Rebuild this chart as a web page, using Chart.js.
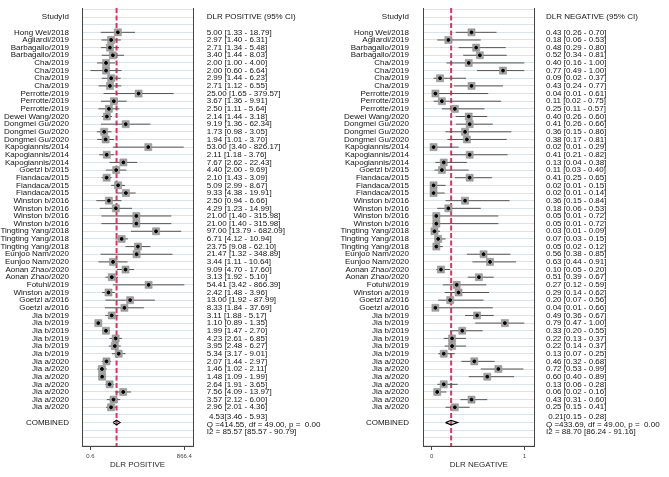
<!DOCTYPE html>
<html>
<head>
<meta charset="utf-8">
<script src="https://cdn.jsdelivr.net/npm/chart.js@4/dist/chart.umd.min.js"></script>
<style>
  body { margin: 0; background: #fff; }
  #wrap { position: relative; width: 669px; height: 477px; }
  canvas { position: absolute; top: 0; }
</style>
</head>
<body>
<div id="wrap">
  <canvas id="pos" width="334" height="477" style="left:0;width:334px;height:477px"></canvas>
  <canvas id="neg" width="335" height="477" style="left:334px;width:335px;height:477px"></canvas>
</div>
<script>
// Studies (one row each)
const studies = ['Hong Wei/2018','Agliardi/2019','Barbagallo/2019','Barbagallo/2019','Cha/2019','Cha/2019','Cha/2019','Cha/2019',
  'Perrotte/2019','Perrotte/2019','Perrotte/2019','Dewei Wang/2020','Dongmei Gu/2020','Dongmei Gu/2020','Dongmei Gu/2020',
  'Kapogiannis/2014','Kapogiannis/2014','Kapogiannis/2014','Goetzl b/2015','Fiandaca/2015','Fiandaca/2015','Fiandaca/2015',
  'Winston b/2016','Winston b/2016','Winston b/2016','Winston b/2016','Tingting Yang/2018','Tingting Yang/2018','Tingting Yang/2018',
  'Eunjoo Nam/2020','Eunjoo Nam/2020','Aonan Zhao/2020','Aonan Zhao/2020','Fotuhi/2019','Winston a/2019','Goetzl a/2016','Goetzl a/2016',
  'Jia b/2019','Jia b/2019','Jia b/2019','Jia b/2019','Jia b/2019','Jia b/2019',
  'Jia a/2020','Jia a/2020','Jia a/2020','Jia a/2020','Jia a/2020','Jia a/2020','Jia a/2020'];

// DLR positive
const posEst = [5.00,2.97,2.71,3.40,2.00,2.00,2.99,2.71,25.00,3.67,2.50,2.14,9.19,1.73,1.94,53.00,2.11,7.67,4.40,2.10,5.09,9.33,
  2.50,4.29,21.00,21.00,97.00,6.71,23.75,21.47,3.44,9.09,3.13,54.41,2.42,13.00,8.33,3.11,1.10,1.99,4.23,3.95,5.34,
  2.07,1.46,1.48,2.64,7.56,3.57,2.96];
const posLo = [1.33,1.40,1.34,1.44,1.00,0.60,1.44,1.12,1.65,1.36,1.11,1.44,1.36,0.98,1.01,3.40,1.18,2.62,2.00,1.43,2.99,4.38,
  0.94,1.23,1.40,1.40,13.79,4.12,9.08,1.32,1.11,4.70,1.92,3.42,1.48,1.92,1.84,1.88,0.89,1.47,2.61,2.48,3.17,
  1.44,1.02,1.09,1.91,4.09,2.12,2.01];
const posHi = [18.79,6.31,5.48,8.03,4.00,6.64,6.23,6.55,379.57,9.91,5.64,3.18,62.34,3.05,3.70,826.17,3.76,22.43,9.69,3.09,8.67,19.91,
  6.66,14.99,315.98,315.98,682.09,10.94,62.10,348.89,10.64,17.60,5.10,866.39,3.96,87.99,37.69,5.17,1.35,2.70,6.85,6.27,9.01,
  2.97,2.11,1.99,3.65,13.97,6.00,4.36];
const posCombined = [4.53, 3.46, 5.93];
const posStats = ['Q =414.55, df = 49.00, p =  0.00', 'I2 = 85.57 [85.57 - 90.79]'];
const posTicks = [0.6, 866.4];
const posTickLabels = ['0.6', '866.4'];

// DLR negative
const negEst = [0.43,0.18,0.48,0.52,0.40,0.77,0.09,0.43,0.04,0.11,0.25,0.40,0.41,0.36,0.38,0.02,0.41,0.13,0.11,0.41,0.02,0.02,
  0.36,0.18,0.05,0.05,0.03,0.07,0.05,0.56,0.63,0.10,0.51,0.27,0.29,0.20,0.04,0.49,0.79,0.33,0.22,0.22,0.13,
  0.46,0.72,0.60,0.13,0.06,0.43,0.25];
const negLo = [0.26,0.06,0.29,0.34,0.16,0.49,0.02,0.24,0.01,0.02,0.11,0.26,0.26,0.15,0.17,0.01,0.21,0.04,0.03,0.25,0.01,0.01,
  0.15,0.06,0.01,0.01,0.01,0.03,0.02,0.38,0.44,0.05,0.39,0.12,0.14,0.07,0.01,0.36,0.47,0.20,0.13,0.14,0.07,
  0.32,0.53,0.40,0.06,0.02,0.31,0.15];
const negHi = [0.70,0.53,0.80,0.81,1.00,1.00,0.37,0.77,0.61,0.75,0.57,0.60,0.66,0.86,0.81,0.29,0.82,0.38,0.40,0.65,0.15,0.14,
  0.84,0.53,0.72,0.72,0.09,0.15,0.12,0.85,0.91,0.20,0.67,0.59,0.62,0.56,0.66,0.67,1.00,0.55,0.37,0.37,0.25,
  0.68,0.99,0.89,0.28,0.16,0.60,0.41];
const negCombined = [0.21, 0.15, 0.28];
const negStats = ['Q =433.69, df = 49.00, p =  0.00', 'I2 = 88.70 [86.24 - 91.16]'];
const negTicks = [0, 1];
const negTickLabels = ['0', '1'];

const FONT = '8px "Liberation Sans", Arial, sans-serif';
const HEADER_ROW = -2;
const COMB_ROW = 51;
const ROW_MIN = -3.18, ROW_MAX = 54.06;

const f2 = v => v.toFixed(2);

function makePanel(id, o) {
  const ciLines = [];
  o.lo.forEach((l, i) => {
    ciLines.push({x: l, y: i}, {x: o.hi[i], y: i}, {x: null, y: null});
  });
  const pts = o.est.map((v, i) => ({x: v, y: i}));
  const [c, cl, ch] = o.comb;
  const diamond = [{x: cl, y: COMB_ROW}, {x: c, y: COMB_ROW - 0.3}, {x: ch, y: COMB_ROW},
                   {x: c, y: COMB_ROW + 0.3}, {x: cl, y: COMB_ROW}];

  const textPlugin = {
    id: 'forestText',
    afterDraw(chart) {
      const ctx = chart.ctx, y = chart.scales.y;
      ctx.save();
      ctx.font = FONT;
      ctx.fillStyle = '#141414';
      ctx.textBaseline = 'middle';
      ctx.textAlign = 'right';
      ctx.fillText('StudyId', o.labelX, y.getPixelForValue(HEADER_ROW));
      studies.forEach((s, i) => ctx.fillText(s, o.labelX, y.getPixelForValue(i)));
      ctx.fillText('COMBINED', o.labelX, y.getPixelForValue(COMB_ROW));
      ctx.textAlign = 'left';
      ctx.fillText(o.header, o.valueX, y.getPixelForValue(HEADER_ROW));
      o.est.forEach((v, i) => {
        ctx.fillText(f2(v) + ' [' + f2(o.lo[i]) + ' - ' + f2(o.hi[i]) + ']', o.valueX, y.getPixelForValue(i));
      });
      const cy = y.getPixelForValue(COMB_ROW);
      ctx.fillText(' ' + f2(c) + '[' + f2(cl) + ' - ' + f2(ch) + ']', o.valueX, cy - 5.3);
      ctx.fillText(o.stats[0], o.valueX, cy + 2.2);
      ctx.fillText(o.stats[1], o.valueX, cy + 9.2);
      ctx.restore();
    }
  };

  new Chart(document.getElementById(id), {
    type: 'scatter',
    data: {
      datasets: [
        { data: pts, pointStyle: 'circle', pointRadius: 1.4, backgroundColor: '#000', borderColor: '#000', order: 0 },
        { data: pts, pointStyle: 'rect', pointRadius: 5, backgroundColor: '#a0a0a0', borderColor: '#888', borderWidth: 0.5, order: 1 },
        { data: diamond, showLine: true, pointRadius: 0, borderColor: '#000', borderWidth: 1.2, order: 2 },
        { data: ciLines, showLine: true, spanGaps: false, pointRadius: 0, borderColor: '#555', borderWidth: 1, order: 3 },
        { data: [{x: c, y: ROW_MIN}, {x: c, y: ROW_MAX}], showLine: true, pointRadius: 0,
          borderColor: '#d9365e', borderWidth: 2, borderDash: [5, 2.5], order: 4 }
      ]
    },
    options: {
      responsive: false,
      animation: false,
      events: [],
      layout: { padding: o.padding },
      plugins: { legend: { display: false }, tooltip: { enabled: false } },
      scales: {
        x: {
          type: o.xType, min: o.xMin, max: o.xMax, bounds: 'data',
          afterBuildTicks: s => { s.ticks = o.ticks.map(v => ({value: v})); },
          afterFit: s => { s.height = 31; },
          ticks: { autoSkip: false, maxRotation: 0, padding: 3, color: '#444',
                   font: { family: '"Liberation Sans", Arial, sans-serif', size: 6 },
                   callback: (v, i) => o.tickLabels[i] },
          grid: { drawOnChartArea: false, drawTicks: true, tickLength: 4, color: '#444' },
          border: { display: true, color: '#444', width: 1 },
          title: { display: true, text: o.title, color: '#2a2a2a', padding: { top: 0, bottom: 7 },
                   font: { family: '"Liberation Sans", Arial, sans-serif', size: 8 } }
        },
        y: {
          type: 'linear', reverse: true, min: ROW_MIN, max: ROW_MAX,
          afterBuildTicks: s => { const t = []; for (let r = -3; r <= 54; r++) t.push({value: r}); s.ticks = t; },
          afterFit: s => { s.width = 0; },
          ticks: { display: false },
          grid: { color: '#d8e3ea', lineWidth: 1, drawTicks: false },
          border: { display: true, color: '#444', width: 1 }
        },
        y2: {
          type: 'linear', position: 'right', min: ROW_MIN, max: ROW_MAX,
          afterFit: s => { s.width = 0; },
          ticks: { display: false },
          grid: { display: false, drawTicks: false },
          border: { display: true, color: '#444', width: 1 }
        }
      }
    },
    plugins: [textPlugin]
  });
}

makePanel('pos', {
  est: posEst, lo: posLo, hi: posHi, comb: posCombined, stats: posStats,
  xType: 'logarithmic', xMin: 0.3103, xMax: 1701, ticks: posTicks, tickLabels: posTickLabels,
  title: 'DLR POSITIVE', header: 'DLR POSITIVE (95% CI)',
  padding: { left: 82, right: 141, top: 8, bottom: 0 }, labelX: 69, valueX: 206.7
});
makePanel('neg', {
  est: negEst, lo: negLo, hi: negHi, comb: negCombined, stats: negStats,
  xType: 'linear', xMin: -0.0907, xMax: 1.108, ticks: negTicks, tickLabels: negTickLabels,
  title: 'DLR NEGATIVE', header: 'DLR NEGATIVE (95% CI)',
  padding: { left: 89.3, right: 134.7, top: 8, bottom: 0 }, labelX: 75, valueX: 212
});
</script>
</body>
</html>
